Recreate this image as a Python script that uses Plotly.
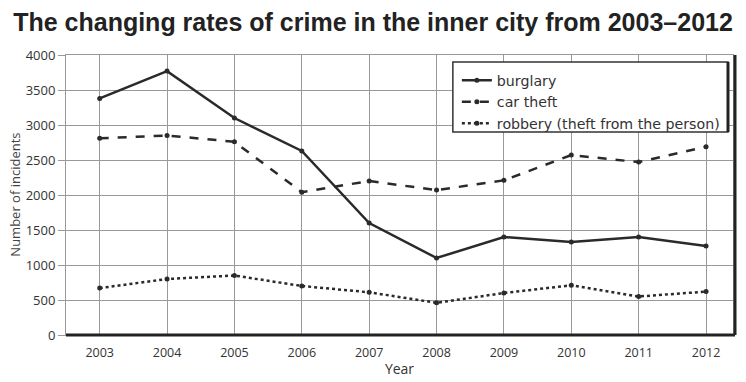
import plotly.graph_objects as go

years = [2003, 2004, 2005, 2006, 2007, 2008, 2009, 2010, 2011, 2012]
burglary = [3380, 3770, 3100, 2630, 1600, 1100, 1400, 1330, 1400, 1270]
car_theft = [2810, 2850, 2760, 2040, 2200, 2070, 2210, 2570, 2470, 2690]
robbery = [670, 800, 850, 700, 610, 460, 600, 710, 550, 620]
y_ticks = [0, 500, 1000, 1500, 2000, 2500, 3000, 3500, 4000]

series = [
    ("burglary", burglary, "solid"),
    ("car theft", car_theft, "dash"),
    ("robbery (theft from the person)", robbery, "dot"),
]

fig = go.Figure()
for name, vals, dash in series:
    fig.add_trace(go.Scatter(
        x=years, y=vals, name=name, mode="lines+markers",
        line=dict(color="#2a2a2a", width=2.5, dash=dash),
        marker=dict(color="#2a2a2a", size=5),
    ))

font_fam = "Open Sans, Noto Sans, sans-serif"
# page body has an 8px margin: figure is 738x374 placed at (8, 8)
fig.update_layout(
    width=738, height=374,
    margin=dict(l=58, r=13, t=47, b=47),
    paper_bgcolor="white", plot_bgcolor="white",
    title=dict(
        text="<b>The changing rates of crime in the inner city from 2003–2012</b>",
        font=dict(family="Liberation Sans, Arial, sans-serif", size=25, color="#222"),
        xref="container", x=0.4946, xanchor="center",
        yref="container", y=0.985, yanchor="top",
    ),
    font=dict(family=font_fam, size=13, color="#333"),
    showlegend=True,
    legend=dict(
        x=0.586, y=0.966, xanchor="left", yanchor="top",
        bgcolor="rgba(0,0,0,0)", borderwidth=0,
        font=dict(family="DejaVu Sans, Open Sans, sans-serif", size=14.2, color="#333"),
        itemwidth=30, tracegroupgap=0,
    ),
    xaxis=dict(
        range=[2002.5, 2012.4], tickmode="array", tickvals=years,
        ticktext=[str(y) for y in years],
        showgrid=True, gridcolor="#999", gridwidth=1,
        zeroline=False, showline=True, linecolor="#999", linewidth=1, mirror=True,
        ticks="", ticklabelstandoff=6, automargin=False,
        tickfont=dict(family=font_fam, size=12.5, color="#333"),
        title=dict(text="Year", font=dict(family=font_fam, size=14, color="#333"), standoff=4),
    ),
    yaxis=dict(
        range=[0, 4000], tickmode="array", tickvals=y_ticks,
        showgrid=True, gridcolor="#999", gridwidth=1,
        zeroline=False, showline=True, linecolor="#999", linewidth=1, mirror=True,
        ticks="outside", ticklen=7, tickcolor="#999", automargin=False,
        tickfont=dict(family=font_fam, size=13, color="#333"),
    ),
    annotations=[dict(
        text="Number of incidents", textangle=-90, showarrow=False,
        xref="paper", yref="paper", x=-0.077, y=0.5, xanchor="center", yanchor="middle",
        font=dict(family=font_fam, size=13, color="#444"),
    )],
)

# thick bottom / right frame
fig.add_shape(type="line", xref="paper", yref="paper", x0=0, x1=1.003, y0=0, y1=0,
              line=dict(color="#222", width=3))
fig.add_shape(type="line", xref="paper", yref="paper", x0=1.003, x1=1.003, y0=0, y1=1,
              line=dict(color="#222", width=3))

# legend box with shadow edge
lx0, lx1, ly0, ly1 = 0.580, 0.9925, 0.725, 0.975
fig.add_shape(type="rect", xref="paper", yref="paper", x0=lx0, x1=lx1, y0=ly0, y1=ly1,
              fillcolor="white", line=dict(color="#333", width=1.5), layer="above")
fig.add_shape(type="line", xref="paper", yref="paper", x0=lx1, x1=lx1, y0=ly0, y1=ly1,
              line=dict(color="#222", width=3), layer="above")

fig.write_html("out.html")
